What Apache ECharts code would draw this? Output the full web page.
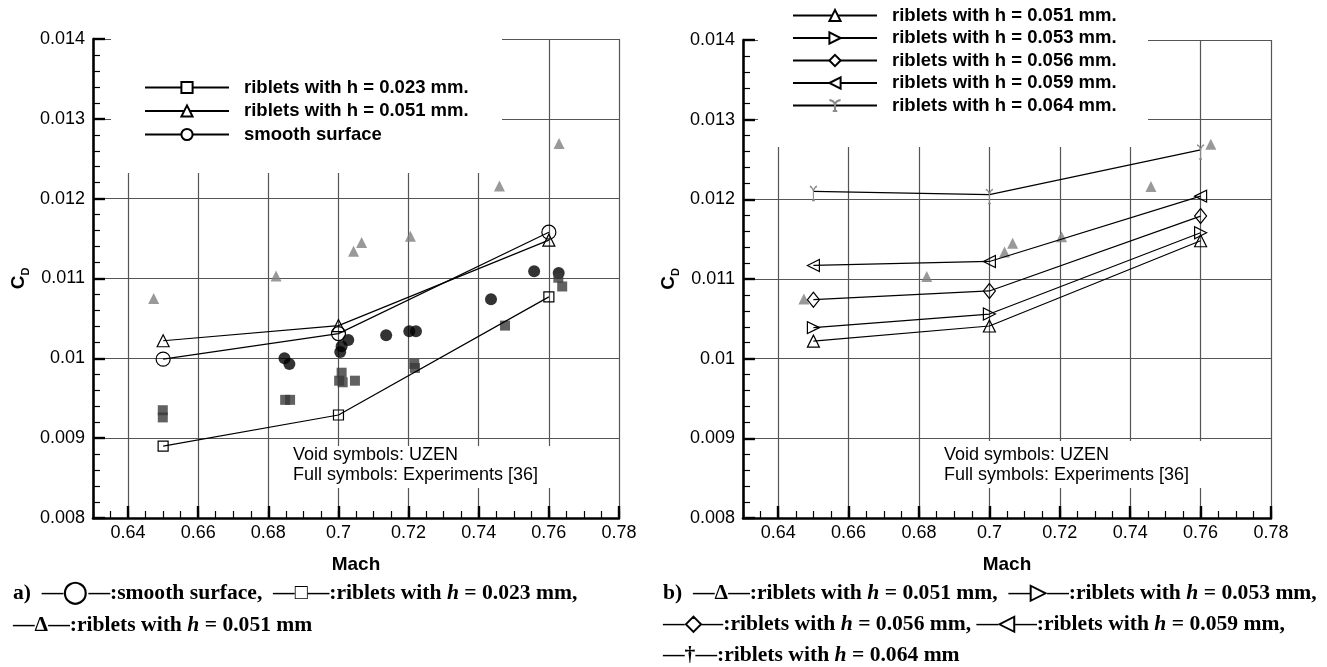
<!DOCTYPE html>
<html>
<head>
<meta charset="utf-8">
<title>Drag coefficient vs Mach: riblets and smooth surface</title>
<script src="https://cdn.jsdelivr.net/npm/echarts@6/dist/echarts.min.js"></script>
<style>
  html, body { margin: 0; padding: 0; background: #fff; }
  #chart { width: 1327px; height: 667px; }
</style>
</head>
<body>
<div id="chart"></div>
<script>
// ---- Axis ticks ----
const machTicks = [0.64, 0.66, 0.68, 0.70, 0.72, 0.74, 0.76, 0.78];

// ---- UZEN computations (void symbols) ----
const machUzen = [0.65, 0.70, 0.76];
const cdSmooth = [0.00999, 0.01031, 0.01158];
const cdRib023 = [0.00890, 0.00929, 0.01077];
const cdRib051 = [0.01022, 0.01041, 0.01148];
const cdRib053 = [0.01039, 0.01056, 0.01158];
const cdRib056 = [0.01074, 0.01085, 0.01179];
const cdRib059 = [0.01117, 0.01122, 0.01204];
const cdRib064 = [0.01210, 0.01206, 0.01262];

// ---- Experiments [36] (full symbols) ----
const expRib051Mach = [0.6473, 0.6822, 0.7043, 0.7066, 0.7205, 0.7459, 0.7629];
const expRib051Cd   = [0.01075, 0.01103, 0.01134, 0.01145, 0.01153, 0.01216, 0.01269];
const expSmoothMach = [0.6846, 0.6860, 0.7005, 0.7009, 0.7028, 0.7136, 0.7202, 0.7221, 0.7435, 0.7558, 0.7628];
const expSmoothCd   = [0.01000, 0.00993, 0.01008, 0.01015, 0.01023, 0.01029, 0.01034, 0.01034, 0.01074, 0.01109, 0.01107];
const expRib023Mach = [0.6499, 0.6499, 0.6848, 0.6862, 0.7009, 0.7002, 0.7012, 0.7047, 0.7216, 0.7218, 0.7475, 0.7627, 0.7638];
const expRib023Cd   = [0.00935, 0.00926, 0.00948, 0.00948, 0.00982, 0.00972, 0.00970, 0.00972, 0.00993, 0.00988, 0.01041, 0.01101, 0.01090];

// ---- Series names (legend entries) ----
const nameRib023 = 'riblets with h = 0.023 mm.';
const nameRib051 = 'riblets with h = 0.051 mm.';
const nameSmooth = 'smooth surface';
const nameRib053 = 'riblets with h = 0.053 mm.';
const nameRib056 = 'riblets with h = 0.056 mm.';
const nameRib059 = 'riblets with h = 0.059 mm.';
const nameRib064 = 'riblets with h = 0.064 mm.';

const zip = (xs, ys) => xs.map((x, i) => [x, ys[i]]);

const SANS = '"Liberation Sans", Arial, Helvetica, sans-serif';
const SERIF = '"Liberation Serif", "Times New Roman", serif';
const GRID_COLOR = '#555';

function mainXAxis(gridIndex) {
  return {
    type: 'value', gridIndex, min: 0.63, max: 0.78, position: 'bottom',
    name: 'Mach', nameLocation: 'middle', nameGap: 37,
    nameTextStyle: { fontFamily: SANS, fontWeight: 'bold', fontSize: 19, color: '#000' },
    axisLine: { show: true, onZero: false, lineStyle: { color: '#000', width: 2.6 } },
    axisTick: { show: true, inside: true, length: 12, customValues: machTicks,
                lineStyle: { color: '#000', width: 2.4 } },
    axisLabel: { show: true, margin: 6, customValues: machTicks,
                 fontFamily: SANS, fontSize: 18, color: '#000',
                 formatter: v => String(+(+v).toFixed(2)) },
    splitLine: { show: true, lineStyle: { color: GRID_COLOR, width: 1.2 } }
  };
}
function minorXAxis(gridIndex) {
  return {
    type: 'value', gridIndex, min: 0.63, max: 0.78, interval: 0.005, position: 'bottom',
    axisLine: { show: false, onZero: false },
    axisTick: { show: true, inside: true, length: 7, lineStyle: { color: '#000', width: 1.2 } },
    axisLabel: { show: false },
    splitLine: { show: false }
  };
}
function cdYAxis(gridIndex) {
  return {
    type: 'value', gridIndex, min: 0.008, max: 0.014, interval: 0.001,
    name: '{c|C}{d|D}', nameLocation: 'middle', nameGap: 62, nameRotate: 90,
    nameTextStyle: {
      rich: {
        c: { fontFamily: SANS, fontWeight: 'bold', fontSize: 19, color: '#000', lineHeight: 24, verticalAlign: 'middle' },
        d: { fontFamily: SANS, fontWeight: 'bold', fontSize: 11, color: '#000', lineHeight: 24, verticalAlign: 'bottom' }
      }
    },
    axisLine: { show: true, onZero: false, lineStyle: { color: '#000', width: 2.6 } },
    axisTick: { show: true, inside: true, length: 12, lineStyle: { color: '#000', width: 2.4 } },
    minorTick: { show: true, splitNumber: 5, length: 7, lineStyle: { color: '#000', width: 1.2 } },
    axisLabel: { show: true, margin: 8, fontFamily: SANS, fontSize: 18, color: '#000',
                 formatter: v => String(+(+v).toFixed(4)) },
    splitLine: { show: true, lineStyle: { color: GRID_COLOR, width: 1.2 } },
    minorSplitLine: { show: false }
  };
}

const HOLLOW = 'rgba(255,255,255,0)';
function uzenLine(name, xIdx, yIdx, ys, symbol, size, extra) {
  return Object.assign({
    name, type: 'line', xAxisIndex: xIdx, yAxisIndex: yIdx,
    data: zip(machUzen, ys),
    symbol, symbolSize: size, showAllSymbol: true,
    lineStyle: { color: '#000', width: 1.2 },
    itemStyle: { color: HOLLOW, borderColor: '#000', borderWidth: 1.2 },
    z: 3, silent: true
  }, extra || {});
}
function expScatter(name, xIdx, yIdx, xs, ys, symbol, size, color) {
  return {
    name, type: 'scatter', xAxisIndex: xIdx, yAxisIndex: yIdx,
    data: zip(xs, ys), symbol, symbolSize: size,
    itemStyle: { color, borderWidth: 0 }, z: 2, silent: true
  };
}

// tee-shaped marker for h = 0.064 mm
const TEE = 'path://M0,0 Q3.5,0.5 5,5 Q6.5,0.5 10,0 M5,5 L5,14 M3,14 L7,14';
const teeOpts = {
  symbolKeepAspect: true, symbolOffset: [0, 2],
  itemStyle: { color: HOLLOW, borderColor: '#8a8a8a', borderWidth: 1.3 }
};

const series = [
  // left panel (a)
  expScatter('exp 0.051 a', 0, 0, expRib051Mach, expRib051Cd, 'triangle', 11, '#808080'),
  expScatter('exp smooth', 0, 0, expSmoothMach, expSmoothCd, 'circle', 12, '#000'),
  expScatter('exp 0.023', 0, 0, expRib023Mach, expRib023Cd, 'rect', 10, '#3a3a3a'),
  uzenLine(nameRib023, 0, 0, cdRib023, 'rect', 10),
  uzenLine(nameRib051, 0, 0, cdRib051, 'triangle', 12),
  uzenLine(nameSmooth, 0, 0, cdSmooth, 'circle', 14),
  // right panel (b)
  expScatter('exp 0.051 b', 2, 1, expRib051Mach, expRib051Cd, 'triangle', 11, '#808080'),
  uzenLine(nameRib051, 2, 1, cdRib051, 'triangle', 12),
  uzenLine(nameRib053, 2, 1, cdRib053, 'triangle', 12, { symbolRotate: -90 }),
  uzenLine(nameRib056, 2, 1, cdRib056, 'diamond', [12, 15]),
  uzenLine(nameRib059, 2, 1, cdRib059, 'triangle', 12, { symbolRotate: 90 }),
  uzenLine(nameRib064, 2, 1, cdRib064, TEE, [10, 14], teeOpts)
];

function legendBox(left, top, gap, names) {
  return {
    orient: 'vertical', left, top, padding: 0,
    itemWidth: 84, itemHeight: 14, itemGap: gap,
    selectedMode: false, data: names,
    itemStyle: { color: '#fff' },
    textStyle: { fontFamily: SANS, fontWeight: 'bold', fontSize: 18.5, color: '#000',
                 lineHeight: 18, padding: [0, 0, 0, 10] }
  };
}

const italicH = {
  i: { fontFamily: SERIF, fontWeight: 'bold', fontStyle: 'italic', fontSize: 21.6, color: '#000' }
};
function caption(x, y, text) {
  return {
    type: 'text', x, y, z: 5, silent: true,
    style: { text, fontFamily: SERIF, fontWeight: 'bold', fontSize: 21.6, fill: '#000',
             verticalAlign: 'middle', align: 'left', rich: italicH }
  };
}
function cover(x, y, w, h) {
  return { type: 'rect', z: 1, silent: true, shape: { x, y, width: w, height: h }, style: { fill: '#fff' } };
}
function note(x, y) {
  return {
    type: 'text', x, y, z: 5, silent: true,
    style: { text: 'Void symbols: UZEN\nFull symbols: Experiments [36]',
             fontFamily: SANS, fontSize: 18, fill: '#000', lineHeight: 20, verticalAlign: 'top' }
  };
}

const option = {
  animation: false,
  backgroundColor: '#fff',
  grid: [
    { left: 93, top: 39, width: 526, height: 479, containLabel: false },
    { left: 743, top: 40, width: 528, height: 478, containLabel: false }
  ],
  xAxis: [mainXAxis(0), minorXAxis(0), mainXAxis(1), minorXAxis(1)],
  yAxis: [cdYAxis(0), cdYAxis(1)],
  legend: [
    legendBox(144, 78, 4.5, [nameRib023, nameRib051, nameSmooth]),
    legendBox(792, 6, 3.5, [nameRib051, nameRib053, nameRib056, nameRib059, nameRib064])
  ],
  series,
  graphic: { elements: [
    // blank areas behind the legends and the notes
    cover(111, 28, 391, 145),
    cover(758, 28, 390, 119),
    cover(289, 446, 276, 42),
    cover(940, 441, 276, 47),
    note(293, 445),
    note(944, 445),
    caption(13, 593, 'a)  —◯—:smooth surface,  —□—:riblets with {i|h} = 0.023 mm,'),
    caption(13, 625, '—Δ—:riblets with {i|h} = 0.051 mm'),
    caption(663, 593, 'b)  —Δ—:riblets with {i|h} = 0.051 mm,  —▷—:riblets with {i|h} = 0.053 mm,'),
    caption(663, 624, '—◇—:riblets with {i|h} = 0.056 mm, —◁—:riblets with {i|h} = 0.059 mm,'),
    caption(663, 655, '—†—:riblets with {i|h} = 0.064 mm')
  ] }
};

const chart = echarts.init(document.getElementById('chart'), null, { renderer: 'canvas' });
chart.setOption(option);
</script>
</body>
</html>
